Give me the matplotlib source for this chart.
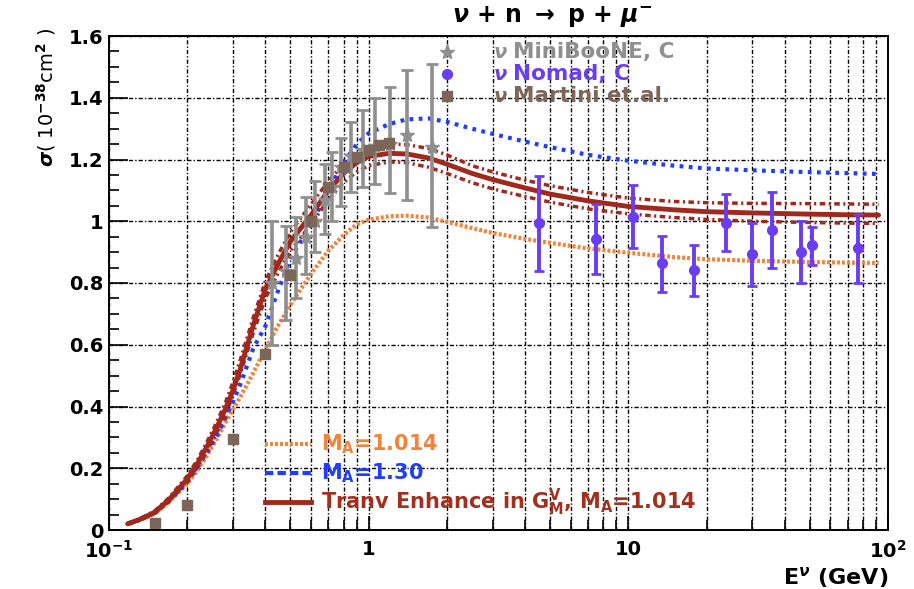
import matplotlib
matplotlib.use("Agg")
import matplotlib.pyplot as plt
from matplotlib.ticker import FixedLocator, NullFormatter, MultipleLocator, LogLocator

W, H = 914, 589

# ---------- theory curves (sampled energies, GeV) ----------
e_curve = [0.118, 0.13, 0.14, 0.15, 0.17, 0.2, 0.22, 0.24, 0.26, 0.28, 0.30, 0.32, 0.36, 0.4,
           0.45, 0.5, 0.6, 0.7, 0.8, 0.9, 1.0, 1.2, 1.4, 1.7, 2.0, 2.5, 3.0, 4.0, 5.0, 7.0,
           10, 15, 20, 30, 50, 70, 92]
sig_ma1014 = [0.02, 0.031, 0.042, 0.053, 0.09, 0.15, 0.195, 0.245, 0.295, 0.345, 0.39, 0.43,
              0.51, 0.585, 0.665, 0.73, 0.83, 0.905, 0.955, 0.99, 1.005, 1.016, 1.018, 1.012,
              0.998, 0.978, 0.962, 0.943, 0.93, 0.912, 0.898, 0.884, 0.877, 0.872, 0.868,
              0.866, 0.865]
sig_ma130 = [0.02, 0.032, 0.043, 0.055, 0.093, 0.155, 0.205, 0.255, 0.305, 0.36, 0.415, 0.47,
             0.59, 0.66, 0.78, 0.88, 0.99, 1.10, 1.19, 1.25, 1.285, 1.315, 1.33, 1.333,
             1.322, 1.30, 1.283, 1.258, 1.24, 1.215, 1.196, 1.18, 1.171, 1.165, 1.159,
             1.156, 1.153]
sig_tran = [0.02, 0.033, 0.045, 0.058, 0.098, 0.165, 0.218, 0.275, 0.332, 0.39, 0.452, 0.52,
            0.665, 0.78, 0.865, 0.935, 1.02, 1.10, 1.155, 1.19, 1.21, 1.22, 1.218, 1.205,
            1.185, 1.155, 1.135, 1.108, 1.088, 1.066, 1.048, 1.037, 1.031, 1.027, 1.023,
            1.021, 1.02]
sig_tran_hi = [0.022, 0.035, 0.048, 0.062, 0.104, 0.175, 0.23, 0.29, 0.35, 0.41, 0.478, 0.55,
               0.69, 0.805, 0.895, 0.965, 1.055, 1.13, 1.185, 1.22, 1.24, 1.25, 1.248, 1.236,
               1.215, 1.18, 1.16, 1.133, 1.115, 1.093, 1.075, 1.064, 1.06, 1.058, 1.057,
               1.056, 1.055]
sig_tran_lo = [0.018, 0.031, 0.042, 0.054, 0.092, 0.155, 0.206, 0.26, 0.315, 0.37, 0.435, 0.505,
               0.64, 0.75, 0.835, 0.905, 0.99, 1.07, 1.125, 1.16, 1.18, 1.192, 1.19, 1.175,
               1.155, 1.125, 1.105, 1.08, 1.062, 1.04, 1.024, 1.012, 1.006, 1.0, 0.996,
               0.994, 0.993]

# ---------- data ----------
mb_e = [0.423, 0.48, 0.527, 0.576, 0.62, 0.677, 0.724, 0.785, 0.853, 0.951, 1.055, 1.205, 1.40, 1.75]
mb_sig = [0.80, 0.84, 0.88, 0.95, 1.0, 1.07, 1.11, 1.175, 1.21, 1.23, 1.245, 1.25, 1.28, 1.24]
mb_lo = [0.60, 0.68, 0.75, 0.83, 0.90, 0.96, 1.0, 1.05, 1.095, 1.11, 1.12, 1.09, 1.07, 0.98]
mb_hi = [1.00, 0.985, 1.014, 1.08, 1.13, 1.185, 1.225, 1.27, 1.32, 1.36, 1.40, 1.435, 1.49, 1.51]

nd_e = [4.51, 7.54, 10.45, 13.5, 17.9, 23.8, 30.0, 35.8, 46.3, 51.0, 76.7]
nd_sig = [0.994, 0.943, 1.014, 0.865, 0.842, 0.994, 0.894, 0.972, 0.90, 0.923, 0.913]
nd_lo = [0.839, 0.829, 0.913, 0.771, 0.758, 0.904, 0.790, 0.849, 0.80, 0.858, 0.80]
nd_hi = [1.147, 1.056, 1.117, 0.952, 0.923, 1.088, 0.994, 1.095, 1.0, 0.981, 1.023]

mt_e = [0.15, 0.2, 0.3, 0.4, 0.5, 0.6, 0.7, 0.8, 0.9, 1.0, 1.1, 1.2]
mt_sig = [0.022, 0.08, 0.294, 0.57, 0.826, 1.0, 1.11, 1.176, 1.209, 1.231, 1.247, 1.252]

C_OR = "#f0843c"
C_BL = "#1f3cff"
C_RD = "#a0281c"
C_PU = "#6a3cf2"
C_GR = "#8f8f8f"
C_BR = "#7b6659"

plt.rcParams["font.family"] = "DejaVu Sans"
plt.rcParams["font.weight"] = "bold"

fig = plt.figure(figsize=(W / 100, H / 100), dpi=100)
ax = fig.add_axes([109 / W, 59 / H, 779 / W, 494 / H])


def fx(px):
    return px / W


def fy(py):
    return 1 - py / H


# ---------- curves ----------
ax.plot(e_curve, sig_ma1014, color=C_OR, lw=3, dashes=(0.7, 0.5))
ax.plot(e_curve, sig_ma130, color=C_BL, lw=3, dashes=(0.9, 1.3))
ax.plot(e_curve, sig_tran_hi, color=C_RD, lw=2.5, dashes=(1.6, 1.0, 0.6, 1.0))
ax.plot(e_curve, sig_tran_lo, color=C_RD, lw=2.5, dashes=(1.6, 1.0, 0.6, 1.0))
ax.plot(e_curve, sig_tran, color=C_RD, lw=3.5, solid_capstyle="round")

# ---------- data points ----------
ax.errorbar(mb_e, mb_sig, yerr=[[s - l for s, l in zip(mb_sig, mb_lo)],
                                [h - s for s, h in zip(mb_sig, mb_hi)]],
            fmt="none", ecolor=C_GR, elinewidth=2.6, capsize=4, capthick=2)
ax.plot(mb_e, mb_sig, "*", color=C_GR, ms=11, mec=C_GR)
ax.plot(mt_e, mt_sig, "s", color=C_BR, ms=7, mec=C_BR)
ax.errorbar(nd_e, nd_sig, yerr=[[s - l for s, l in zip(nd_sig, nd_lo)],
                                [h - s for s, h in zip(nd_sig, nd_hi)]],
            fmt="o", color=C_PU, ms=7, ecolor=C_PU, elinewidth=2.8, capsize=3.5, capthick=2)

# ---------- axes ----------
ax.set_xscale("log")
ax.set_xlim(0.1, 100)
ax.set_ylim(0, 1.6)
ax.xaxis.set_major_locator(FixedLocator([0.1, 1, 10, 100]))
ax.xaxis.set_minor_locator(LogLocator(base=10, subs=range(2, 10)))
ax.xaxis.set_minor_formatter(NullFormatter())
ax.set_xticklabels(["10$^{-1}$", "1", "10", "10$^{2}$"])
ax.yaxis.set_minor_locator(MultipleLocator(0.05))
ax.set_yticks([0, 0.2, 0.4, 0.6, 0.8, 1.0, 1.2, 1.4, 1.6])
ax.set_yticklabels(["0", "0.2", "0.4", "0.6", "0.8", "1", "1.2", "1.4", "1.6"])
ax.tick_params(axis="both", which="both", direction="in", top=False, right=False,
               labelsize=14, width=1.2)
ax.tick_params(axis="y", which="major", length=14, pad=4)
ax.tick_params(axis="y", which="minor", length=7)
ax.tick_params(axis="x", which="major", length=10, pad=7)
ax.tick_params(axis="x", which="minor", length=7)
for sp in ax.spines.values():
    sp.set_linewidth(1.4)
gls = (0, (3, 1.5, 1, 1.5))
ax.grid(True, which="major", axis="both", color="black", lw=1, linestyle=gls)
ax.grid(True, which="minor", axis="x", color="black", lw=1, linestyle=gls)
ax.set_axisbelow(True)

# ---------- labels ----------
fig.text(fx(553), fy(17), r"$\nu$ + n $\rightarrow$ p + $\mu^{-}$", ha="center", va="center",
         fontsize=17, fontweight="bold")
fig.text(fx(46), fy(97), r"$\sigma$( 10$^{-38}$cm$^{2}$ )", ha="center", va="center",
         rotation=90, fontsize=14, fontweight="normal")
fig.text(fx(888), fy(577), r"E$^{\nu}$ (GeV)", ha="right", va="center", fontsize=16,
         fontweight="bold")

# ---------- top legend (data) ----------
leg_rows = [("MiniBooNE, C", C_GR, "*", 11, 52),
            ("Nomad, C", C_PU, "o", 7, 74),
            ("Martini et.al.", C_BR, "s", 7, 96)]
for name, col, mk, ms, yy in leg_rows:
    ax.plot([fx(447)], [fy(yy)], mk, color=col, ms=ms, transform=fig.transFigure, clip_on=False)
    fig.text(fx(493), fy(yy), r"$\nu$", color=col, ha="left", va="center", fontsize=14)
    fig.text(fx(513), fy(yy), name, color=col, ha="left", va="center", fontsize=15.5,
             fontweight="bold")

# ---------- bottom legend (curves) ----------
leg_lines = [("M$_\\mathregular{A}$=1.014", C_OR, dict(lw=3, dashes=(0.7, 0.5)), 444, C_OR),
             ("M$_\\mathregular{A}$=1.30", C_BL, dict(lw=3, dashes=(2.0, 1.0)), 473, C_BL),
             ("Tranv Enhance in G$_\\mathregular{M}^\\mathregular{V}$, M$_\\mathregular{A}$=1.014",
              C_RD, dict(lw=3.5), 502, "#a3301e")]
for txt, col, kw, yy, tcol in leg_lines:
    ax.plot([fx(265), fx(311)], [fy(yy), fy(yy)], color=col, transform=fig.transFigure,
            clip_on=False, **kw)
    fig.text(fx(321), fy(yy), txt, color=tcol, ha="left", va="center", fontsize=15,
             fontweight="bold")

fig.savefig("out.png", dpi=100)
